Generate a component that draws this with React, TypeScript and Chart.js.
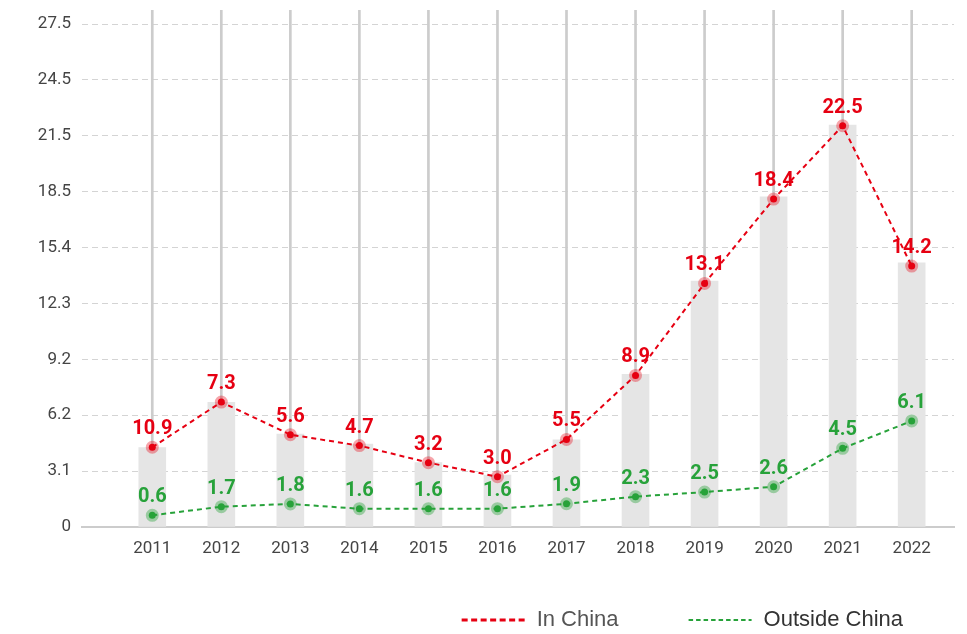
import React, { useEffect, useRef } from 'react';
import { Chart, registerables } from 'chart.js';

Chart.register(...registerables);

// ---- data ----
const years = ['2011', '2012', '2013', '2014', '2015', '2016', '2017', '2018', '2019', '2020', '2021', '2022'];
const totalBars = [4.34, 6.82, 5.08, 4.54, 3.52, 2.84, 4.76, 8.35, 13.45, 18.06, 21.98, 14.45];
const inChina = [4.36, 6.83, 5.05, 4.45, 3.52, 2.75, 4.79, 8.29, 13.32, 17.93, 21.94, 14.27];
const outsideChina = [0.64, 1.11, 1.26, 1.0, 1.0, 1.0, 1.27, 1.66, 1.91, 2.2, 4.3, 5.8];
const inChinaLabels = ['10.9', '7.3', '5.6', '4.7', '3.2', '3.0', '5.5', '8.9', '13.1', '18.4', '22.5', '14.2'];
const outsideChinaLabels = ['0.6', '1.7', '1.8', '1.6', '1.6', '1.6', '1.9', '2.3', '2.5', '2.6', '4.5', '6.1'];
const yTickLabels = ['0', '3.1', '6.2', '9.2', '12.3', '15.4', '18.5', '21.5', '24.5', '27.5'];
const seriesNames = ['In China', 'Outside China'];
const yTickTop = 27.5;
const yMax = 28.27;

const RED = '#e60012';
const GREEN = '#27a23a';

const labelPlugin = {
  id: 'valueLabels',
  afterDatasetsDraw(chart: any) {
    const ctx = chart.ctx;
    ctx.save();
    ctx.font = 'bold 20px Roboto';
    ctx.textAlign = 'center';
    ctx.textBaseline = 'alphabetic';
    chart.data.datasets.forEach((ds: any, di: number) => {
      if (!ds.valueLabels) return;
      const meta = chart.getDatasetMeta(di);
      ctx.fillStyle = ds.borderColor;
      meta.data.forEach((pt: any, i: number) => {
        ctx.fillText(ds.valueLabels[i], pt.x, pt.y - 13);
      });
    });
    ctx.restore();
  },
};

const legendPlugin = {
  id: 'lineLegend',
  afterDraw(chart: any) {
    const ctx = chart.ctx;
    const items = chart.data.datasets.filter((d: any) => d.legendStyle);
    const lineW = 63;
    const gapText = 12;
    const gapItem = 70;
    ctx.save();
    ctx.font = '22px "Liberation Sans", Arial, sans-serif';
    const widths = items.map((d: any) => lineW + gapText + ctx.measureText(d.label).width);
    const total = widths.reduce((a: number, b: number) => a + b, 0) + gapItem * (items.length - 1);
    let x = chart.chartArea.right - 51 - total;
    const y = 612;
    items.forEach((d: any, i: number) => {
      const st = d.legendStyle;
      ctx.beginPath();
      ctx.setLineDash(st.dash);
      ctx.lineWidth = st.width;
      ctx.strokeStyle = d.borderColor;
      ctx.moveTo(x, y);
      ctx.lineTo(x + lineW, y);
      ctx.stroke();
      ctx.setLineDash([]);
      ctx.fillStyle = st.textColor;
      ctx.textAlign = 'left';
      ctx.textBaseline = 'middle';
      ctx.fillText(d.label, x + lineW + gapText, y);
      x += widths[i] + gapItem;
    });
    ctx.restore();
  },
};

export default function App() {
  const canvasRef = useRef<HTMLCanvasElement | null>(null);

  useEffect(() => {
    if (!canvasRef.current) return;
    const chart = new Chart(canvasRef.current, {
      type: 'bar',
      data: {
        datasets: [
          {
            type: 'line',
            label: seriesNames[0],
            data: inChina.map((v, i) => ({ x: i, y: v })),
            borderColor: RED,
            borderWidth: 2,
            borderDash: [5, 4],
            pointRadius: 3.5,
            pointBorderWidth: 6,
            pointBackgroundColor: RED,
            pointBorderColor: 'rgba(230,0,18,0.35)',
            tension: 0,
            order: 1,
            valueLabels: inChinaLabels,
            legendStyle: { dash: [6, 3.5], width: 3, textColor: '#555' },
          } as any,
          {
            type: 'line',
            label: seriesNames[1],
            data: outsideChina.map((v, i) => ({ x: i, y: v })),
            borderColor: GREEN,
            borderWidth: 2,
            borderDash: [5, 4],
            pointRadius: 3.5,
            pointBorderWidth: 6,
            pointBackgroundColor: GREEN,
            pointBorderColor: 'rgba(39,162,58,0.4)',
            tension: 0,
            order: 2,
            valueLabels: outsideChinaLabels,
            legendStyle: { dash: [4.5, 3], width: 1.8, textColor: '#333' },
          } as any,
          {
            type: 'bar',
            label: 'stem',
            data: inChina.map((v, i) => ({ x: i, y: [v, yMax] })),
            backgroundColor: '#cccccc',
            barThickness: 2,
            grouped: false,
            order: 3,
          } as any,
          {
            type: 'bar',
            label: 'total',
            data: totalBars.map((v, i) => ({ x: i, y: v })),
            backgroundColor: '#e5e5e5',
            barThickness: 27,
            grouped: false,
            order: 4,
          } as any,
        ],
      },
      options: {
        animation: false,
        responsive: true,
        maintainAspectRatio: false,
        layout: { autoPadding: false, padding: { top: 2, right: 5, bottom: 0, left: 0 } },
        plugins: {
          legend: { display: false },
          tooltip: { enabled: false },
        },
        scales: {
          x: {
            type: 'linear',
            offset: false,
            bounds: 'data',
            min: -1.018,
            max: 11.613,
            afterBuildTicks: (scale: any) => {
              scale.ticks = years.map((_, i) => ({ value: i }));
            },
            afterFit: (scale: any) => {
              scale.height = 99;
              scale.paddingLeft = 0;
              scale.paddingRight = 0;
              scale.paddingTop = 0;
              scale.paddingBottom = 0;
            },
            ticks: {
              autoSkip: false,
              maxRotation: 0,
              padding: 12,
              color: '#444',
              font: { family: 'Roboto', size: 17 },
              callback: (_v: any, i: number) => years[i],
            },
            grid: { display: false, drawTicks: false, offset: false },
            border: { display: true, color: '#cccccc', width: 2 },
          },
          y: {
            type: 'linear',
            min: 0,
            max: yMax,
            afterBuildTicks: (scale: any) => {
              scale.ticks = yTickLabels.map((_, i) => ({ value: (i * yTickTop) / (yTickLabels.length - 1) }));
            },
            afterFit: (scale: any) => {
              scale.width = 74;
              scale.paddingLeft = 0;
              scale.paddingRight = 0;
              scale.paddingTop = 0;
              scale.paddingBottom = 0;
            },
            ticks: {
              autoSkip: false,
              padding: 11,
              color: '#444',
              font: { family: 'Roboto', size: 17 },
              callback: (_v: any, i: number) => yTickLabels[i],
            },
            grid: { color: '#d4d4d4', lineWidth: 1, drawTicks: false },
            border: { display: false, dash: [6, 4] },
          },
        },
      },
      plugins: [labelPlugin, legendPlugin],
    } as any);
    return () => chart.destroy();
  }, []);

  return (
    <div style={{ position: 'relative', height: 618 }}>
      <canvas ref={canvasRef} />
    </div>
  );
}
